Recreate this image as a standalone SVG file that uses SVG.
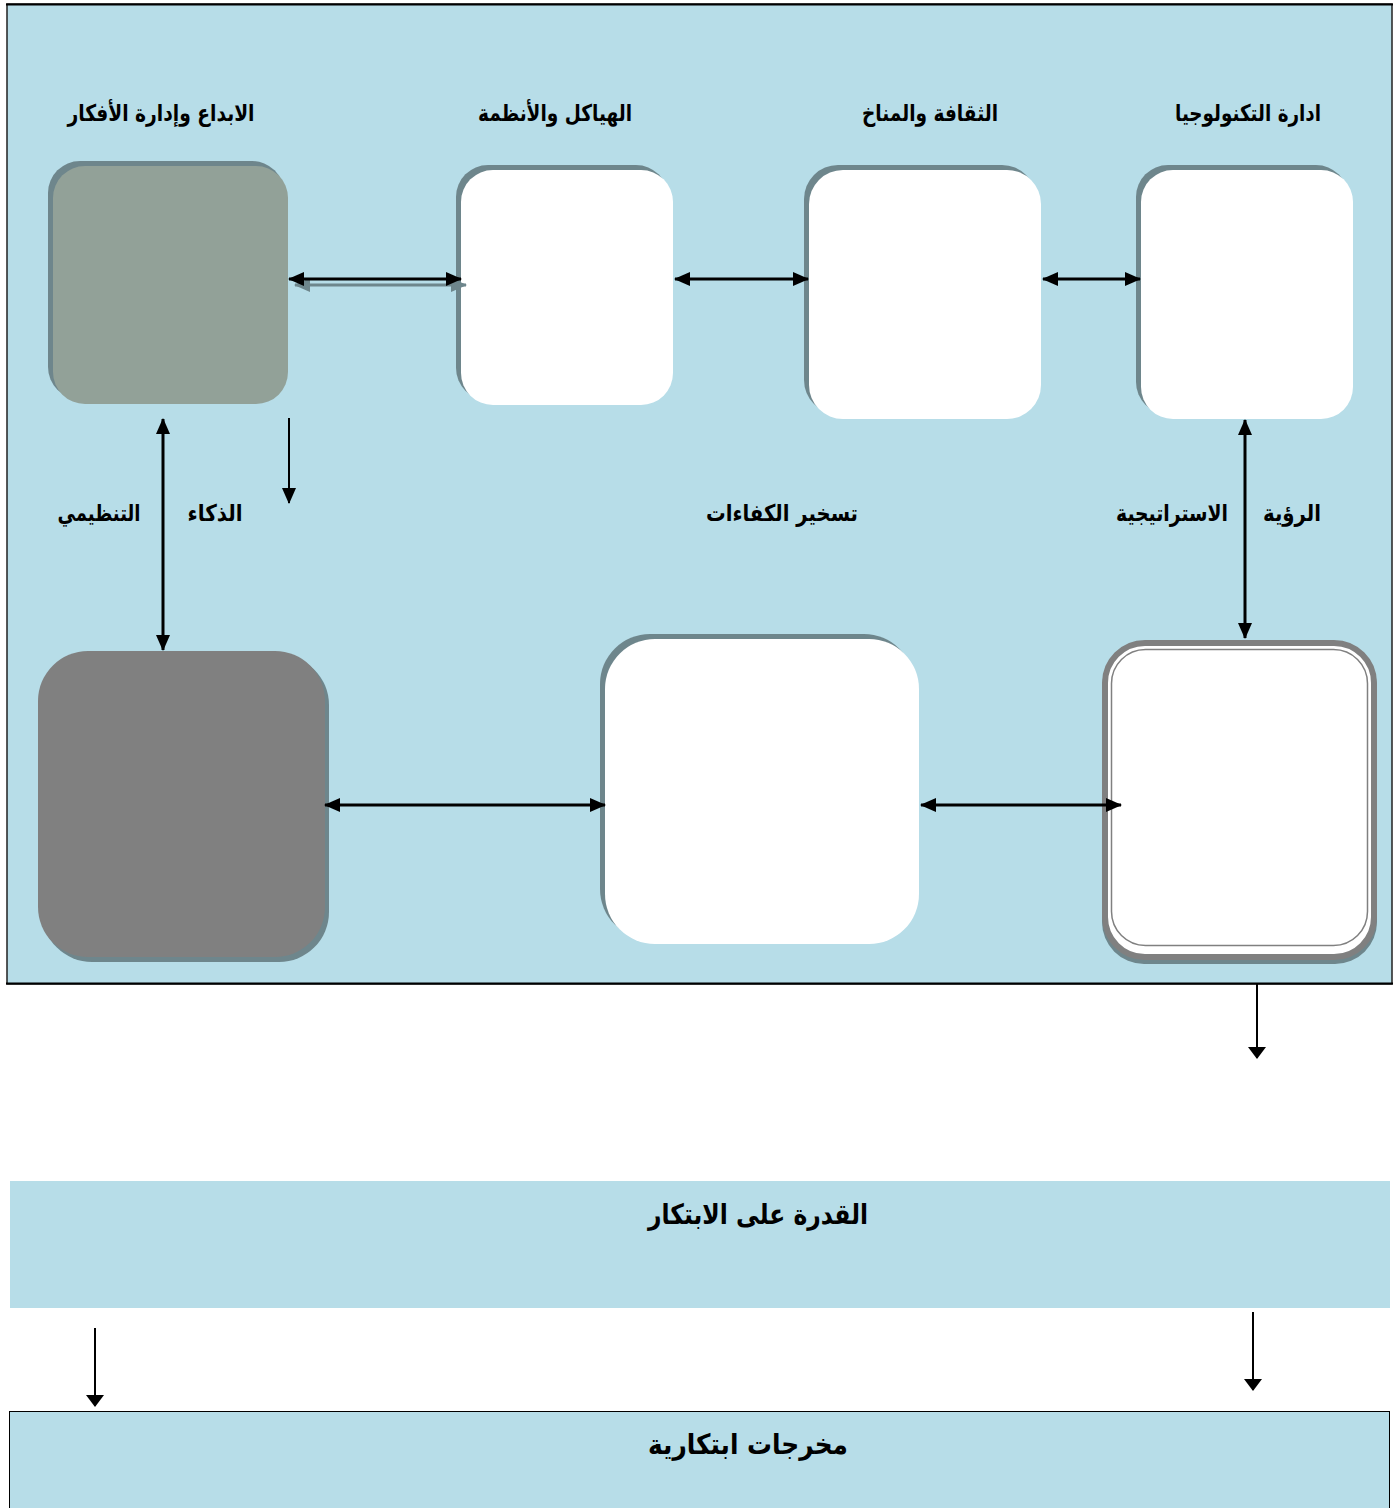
<svg xmlns="http://www.w3.org/2000/svg" width="1399" height="1508" viewBox="0 0 1399 1508">
<defs>
<style>
.lbl{font-family:"DejaVu Sans","Noto Sans",sans-serif;font-weight:bold;font-size:23px;fill:#000;text-anchor:middle}
.big{font-size:28px}
.shd{fill:#6E868C}
.wht{fill:#FFFFFF}
.con{stroke:#000;stroke-width:3;fill:none}
.thin{stroke:#000;stroke-width:2;fill:none}
</style>
<marker id="ah" viewBox="0 0 16 14" refX="15" refY="7" markerWidth="16" markerHeight="14" markerUnits="userSpaceOnUse" orient="auto-start-reverse">
<path d="M0,0 L16,7 L0,14 Z" fill="#000"/>
</marker>
<marker id="ahs" viewBox="0 0 16 14" refX="15" refY="7" markerWidth="16" markerHeight="14" markerUnits="userSpaceOnUse" orient="auto-start-reverse">
<path d="M0,0 L16,7 L0,14 Z" fill="#6E868C"/>
</marker>
<marker id="ah2" viewBox="0 0 12 18" refX="11" refY="9" markerWidth="12" markerHeight="18" markerUnits="userSpaceOnUse" orient="auto">
<path d="M0,0 L12,9 L0,18 Z" fill="#000"/>
</marker>
</defs>

<g id="frame">
<rect x="7" y="4" width="1385" height="980" fill="#B7DDE8" stroke="#222" stroke-width="1.5"/>
<line x1="6" y1="4.5" x2="1393" y2="4.5" stroke="#000" stroke-width="2"/>
<line x1="6" y1="983.5" x2="1393" y2="983.5" stroke="#000" stroke-width="2"/>
</g>

<g id="node-creativity">
<rect class="shd" x="48" y="161" width="236" height="238" rx="32"/>
<rect x="53" y="166" width="235" height="238" rx="32" fill="#92A198"/>
<text class="lbl" x="161" y="121" textLength="187" lengthAdjust="spacingAndGlyphs">الابداع وإدارة الأفكار</text>
</g>

<g id="node-structures">
<rect class="shd" x="456" y="165" width="212" height="235" rx="32"/>
<rect class="wht" x="461" y="170" width="212" height="235" rx="32"/>
<text class="lbl" x="555" y="121" textLength="154" lengthAdjust="spacingAndGlyphs">الهياكل والأنظمة</text>
</g>

<g id="node-culture">
<rect class="shd" x="804" y="165" width="232" height="249" rx="34"/>
<rect class="wht" x="809" y="170" width="232" height="249" rx="34"/>
<text class="lbl" x="930" y="121" textLength="136" lengthAdjust="spacingAndGlyphs">الثقافة والمناخ</text>
</g>

<g id="node-technology">
<rect class="shd" x="1136" y="165" width="212" height="249" rx="32"/>
<rect class="wht" x="1141" y="170" width="212" height="249" rx="32"/>
<text class="lbl" x="1248" y="121" textLength="146" lengthAdjust="spacingAndGlyphs">ادارة التكنولوجيا</text>
</g>

<g id="node-intelligence">
<rect class="shd" x="42" y="655" width="287" height="307" rx="50"/>
<rect x="38" y="651" width="287" height="306" rx="50" fill="#808080"/>
<text class="lbl" x="215" y="521" textLength="55" lengthAdjust="spacingAndGlyphs">الذكاء</text>
<text class="lbl" x="99" y="521" textLength="83" lengthAdjust="spacingAndGlyphs">التنظيمي</text>
</g>

<g id="node-competencies">
<rect class="shd" x="600" y="634" width="314" height="305" rx="50"/>
<rect class="wht" x="605" y="639" width="314" height="305" rx="50"/>
<text class="lbl" x="782" y="521" textLength="152" lengthAdjust="spacingAndGlyphs">تسخير الكفاءات</text>
</g>

<g id="node-vision">
<rect class="shd" x="1102" y="645" width="275" height="319" rx="42"/>
<rect x="1105" y="643" width="269" height="314" rx="40" fill="#FFFFFF" stroke="#808080" stroke-width="6"/>
<rect x="1111.5" y="649.5" width="256" height="296" rx="34" fill="none" stroke="#808080" stroke-width="1.5"/>
<text class="lbl" x="1172" y="521" textLength="112" lengthAdjust="spacingAndGlyphs">الاستراتيجية</text>
<text class="lbl" x="1292" y="521" textLength="58" lengthAdjust="spacingAndGlyphs">الرؤية</text>
</g>

<g id="node-capability">
<rect x="10" y="1181" width="1380" height="127" fill="#B7DDE8"/>
<text class="lbl big" x="758" y="1224" textLength="220" lengthAdjust="spacingAndGlyphs">القدرة على الابتكار</text>
</g>

<g id="node-outputs">
<rect x="9.5" y="1411.5" width="1380" height="100" fill="#B7DDE8" stroke="#000" stroke-width="1"/>
<text class="lbl big" x="748" y="1454" textLength="200" lengthAdjust="spacingAndGlyphs">مخرجات ابتكارية</text>
</g>

<g id="connectors">
<line x1="295" y1="285" x2="466" y2="285" stroke="#6E868C" stroke-width="3" marker-start="url(#ahs)" marker-end="url(#ahs)"/>
<line class="con" x1="289" y1="279" x2="461" y2="279" marker-start="url(#ah)" marker-end="url(#ah)"/>
<line class="con" x1="675" y1="279" x2="808" y2="279" marker-start="url(#ah)" marker-end="url(#ah)"/>
<line class="con" x1="1043" y1="279" x2="1140" y2="279" marker-start="url(#ah)" marker-end="url(#ah)"/>
<line class="con" x1="1245" y1="420" x2="1245" y2="638" marker-start="url(#ah)" marker-end="url(#ah)"/>
<line class="con" x1="163" y1="419" x2="163" y2="650" marker-start="url(#ah)" marker-end="url(#ah)"/>
<line class="thin" x1="289" y1="418" x2="289" y2="503" marker-end="url(#ah)"/>
<line class="con" x1="325" y1="805" x2="605" y2="805" marker-start="url(#ah)" marker-end="url(#ah)"/>
<line class="con" x1="921" y1="805" x2="1121" y2="805" marker-start="url(#ah)" marker-end="url(#ah)"/>
<line class="thin" x1="1257" y1="984" x2="1257" y2="1058" marker-end="url(#ah2)"/>
<line class="thin" x1="1253" y1="1312" x2="1253" y2="1390" marker-end="url(#ah2)"/>
<line class="thin" x1="95" y1="1328" x2="95" y2="1406" marker-end="url(#ah2)"/>
</g>
</svg>
